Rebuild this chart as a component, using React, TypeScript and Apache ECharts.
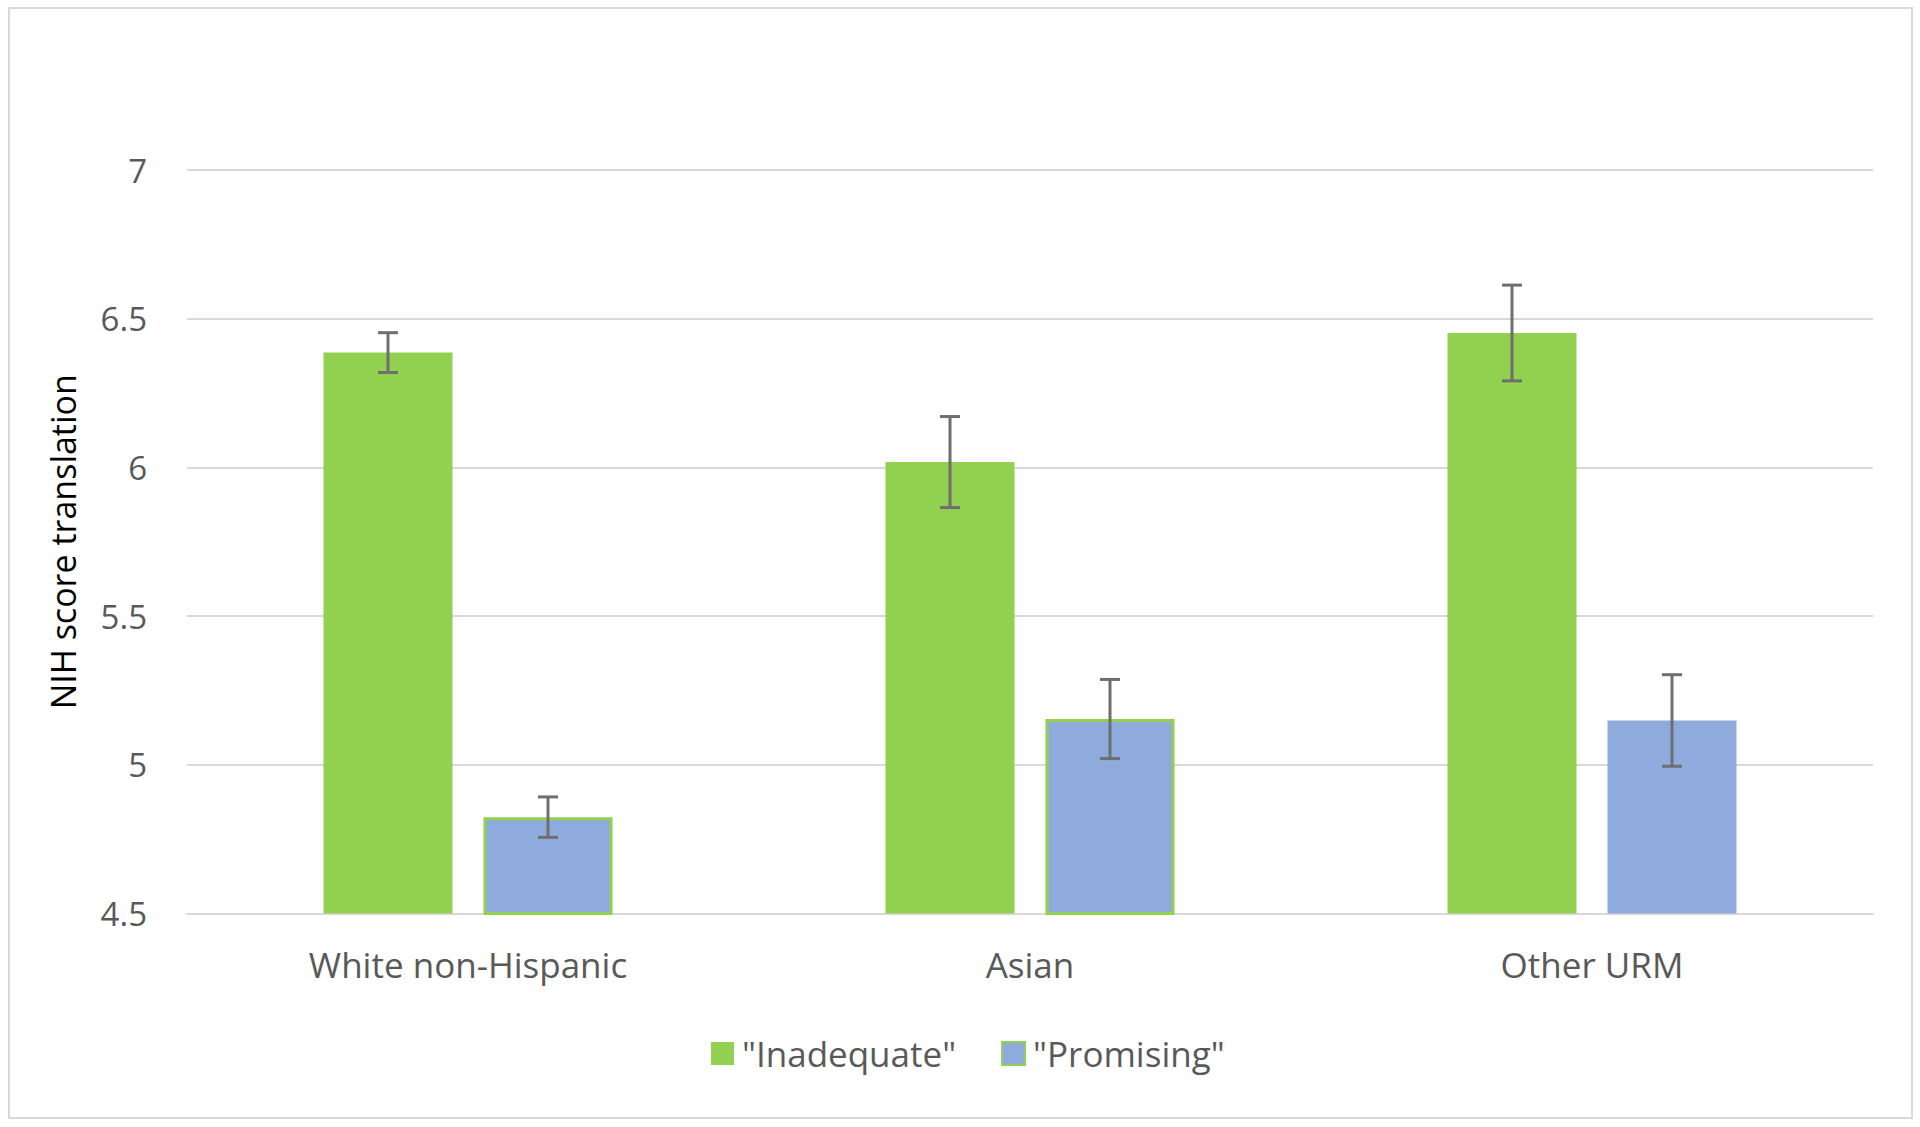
import React, { useEffect, useRef } from "react";
import * as echarts from "echarts";

const categories = ["White non-Hispanic", "Asian", "Other URM"];
const seriesNames = ['"Inadequate"', '"Promising"'];
const inadequate = [6.386, 6.018, 6.452];
const inadequateErr = [0.067, 0.153, 0.161];
const promising = [4.824, 5.154, 5.149];
const promisingErr = [0.068, 0.133, 0.154];
const yMin = 4.5;
const yMax = 7;
const yStep = 0.5;

const GREEN = "#92D050";
const BLUE = "#8FAADC";
const ERR = "#6F6F6F";
const GRID = "#D9D9D9";
const BAR_W = 129;
const BAR_GAP = 31;
const FONT = "'Open Sans', 'Noto Sans', sans-serif";

function errorSeries(values: number[], errs: number[], sign: number) {
  const data = values.map((v, i) => [i, v - errs[i], v + errs[i]]);
  return {
    type: "custom",
    silent: true,
    z: 10,
    encode: { x: 0, y: [1, 2] },
    data,
    renderItem: (params: any, api: any) => {
      const idx = api.value(0);
      const lo = api.coord([idx, api.value(1)]);
      const hi = api.coord([idx, api.value(2)]);
      const x = lo[0] + sign * (BAR_W + BAR_GAP) / 2;
      const cap = 10;
      const style = { stroke: ERR, lineWidth: 3 };
      return {
        type: "group",
        children: [
          { type: "line", shape: { x1: x, y1: lo[1], x2: x, y2: hi[1] }, style },
          { type: "line", shape: { x1: x - cap, y1: lo[1], x2: x + cap, y2: lo[1] }, style },
          { type: "line", shape: { x1: x - cap, y1: hi[1], x2: x + cap, y2: hi[1] }, style },
        ],
      };
    },
  };
}

export default function App() {
  const ref = useRef<HTMLDivElement>(null);
  useEffect(() => {
    document.body.style.margin = "0";
    if (!ref.current) return;
    const chart = echarts.init(ref.current, undefined, { renderer: "svg" });
    chart.setOption({
      animation: false,
      backgroundColor: "#FFFFFF",
      textStyle: { fontFamily: FONT },
      graphic: [
        {
          type: "rect",
          shape: { x: 9, y: 8, width: 1903, height: 1110 },
          style: { fill: "none", stroke: GRID, lineWidth: 2 },
          silent: true,
        },
      ],
      grid: { left: 187, right: 47, top: 170, bottom: 213.5 },
      legend: {
        data: seriesNames,
        left: 706,
        top: 1031,
        itemWidth: 23,
        itemHeight: 23,
        itemGap: 45,
        icon: "rect",
        textStyle: { fontSize: 35, color: "#595959", fontFamily: FONT, padding: [0, 0, 0, 3] },
      },
      xAxis: {
        type: "category",
        data: categories,
        axisLine: { show: true, lineStyle: { color: GRID, width: 2 } },
        axisTick: { show: false },
        axisLabel: { fontSize: 35, color: "#595959", margin: 33, fontFamily: FONT },
        splitLine: { show: false },
      },
      yAxis: {
        type: "value",
        min: yMin,
        max: yMax,
        interval: yStep,
        name: "NIH score translation",
        nameLocation: "middle",
        nameRotate: 90,
        nameGap: 107,
        nameTextStyle: { fontSize: 34, color: "#000000", fontFamily: FONT },
        axisLine: { show: false },
        axisTick: { show: false },
        axisLabel: { fontSize: 33, color: "#595959", margin: 40, fontFamily: FONT },
        splitLine: { lineStyle: { color: GRID, width: 2 } },
      },
      series: [
        {
          name: seriesNames[0],
          type: "bar",
          barWidth: BAR_W,
          barGap: (BAR_GAP / BAR_W) * 100 + "%",
          itemStyle: { color: GREEN },
          data: inadequate,
        },
        {
          name: seriesNames[1],
          type: "bar",
          barWidth: BAR_W,
          itemStyle: { color: BLUE, borderColor: GREEN, borderWidth: 3 },
          data: promising.map((v, i) =>
            i < 2 ? { value: v } : { value: v, itemStyle: { borderWidth: 0 } }
          ),
        },
        errorSeries(inadequate, inadequateErr, -1),
        errorSeries(promising, promisingErr, 1),
      ],
    });
    return () => chart.dispose();
  }, []);
  return <div ref={ref} style={{ width: 1920, height: 1127 }} />;
}
